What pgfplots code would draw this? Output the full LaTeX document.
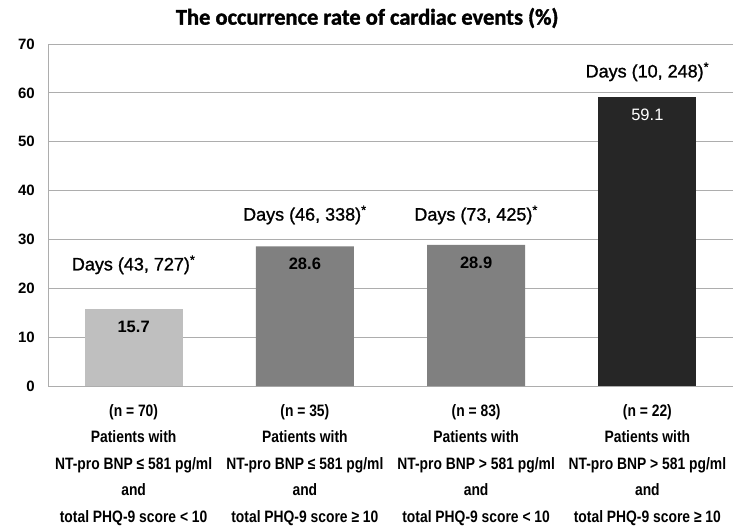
\documentclass[border=0pt]{standalone}
\usepackage{pgfplots}
\pgfplotsset{compat=1.18}
\usepackage{fontspec}
\setmainfont{Liberation Sans}
\newfontfamily\narrowfont[FakeStretch=0.84]{Liberation Sans}
\newfontfamily\daysfont[FakeBold=1.2]{Liberation Sans}
\newfontfamily\titlefont[FakeBold=1.5]{Carlito}

\definecolor{barlight}{HTML}{BFBFBF}
\definecolor{barmid}{HTML}{808080}
\definecolor{bardark}{HTML}{262626}
\definecolor{gridc}{HTML}{ADADAD}

\begin{document}
\begin{tikzpicture}
\begin{axis}[
    name=ax,
    scale only axis,
    width=685bp, height=342bp,
    ybar, bar width=98bp,
    xmin=-0.5, xmax=3.5,
    ymin=0, ymax=70, ytick distance=10,
    xtick={0,1,2,3},
    xticklabels={
      {(n = 70)\\Patients with\\NT-pro BNP ≤ 581 pg/ml\\and\\total PHQ-9 score < 10},
      {(n = 35)\\Patients with\\NT-pro BNP ≤ 581 pg/ml\\and\\total PHQ-9 score ≥ 10},
      {(n = 83)\\Patients with\\NT-pro BNP > 581 pg/ml\\and\\total PHQ-9 score < 10},
      {(n = 22)\\Patients with\\NT-pro BNP > 581 pg/ml\\and\\total PHQ-9 score ≥ 10}},
    xticklabel style={align=center, inner sep=0pt, yshift=-18bp,
      font=\narrowfont\bfseries\fontsize{16.5bp}{26.5bp}\selectfont},
    yticklabel style={inner sep=0pt, xshift=-13bp,
      font=\bfseries\fontsize{15bp}{15bp}\selectfont},
    /pgf/number format/assume math mode=true,
    major tick length=0pt,
    axis x line*=bottom, axis y line*=left,
    axis line style={draw=gridc, line width=0.8bp},
    ymajorgrids, grid style={draw=gridc, line width=0.8bp},
    clip=false,
    nodes near coords,
    nodes near coords style={anchor=center, inner sep=0pt, yshift=-18bp,
      font=\bfseries\fontsize{16.5bp}{16.5bp}\selectfont,
      /pgf/number format/fixed, /pgf/number format/precision=1},
  ]
\addplot[fill=barlight, draw=none, bar shift=0pt] coordinates {(0,15.7)};
\addplot[fill=barmid, draw=none, bar shift=0pt] coordinates {(1,28.6) (2,28.9)};
\addplot[fill=bardark, draw=none, bar shift=0pt,
  nodes near coords style={text=white, font=\fontsize{16.5bp}{16.5bp}\selectfont}]
  coordinates {(3,59.1)};

\begin{scope}[every node/.style={font=\daysfont\fontsize{18bp}{18bp}\selectfont}]
\node at (axis cs:0,24.8) {Days (43, 727)\textsuperscript{*}};
\node at (axis cs:1,35.0) {Days (46, 338)\textsuperscript{*}};
\node at (axis cs:2,35.0) {Days (73, 425)\textsuperscript{*}};
\node at (axis cs:3,64.3) {Days (10, 248)\textsuperscript{*}};
\end{scope}
\node[font=\titlefont\bfseries\fontsize{22.5bp}{22.5bp}\selectfont]
  at (rel axis cs:0.466,1.076) {The occurrence rate of cardiac events (\%)};
\end{axis}
\path (ax.south west) ++(-48bp,-142bp) coordinate (bbA);
\path (ax.north east) ++(10bp,44bp) coordinate (bbB);
\path (bbA) rectangle (bbB);
\end{tikzpicture}
\end{document}
